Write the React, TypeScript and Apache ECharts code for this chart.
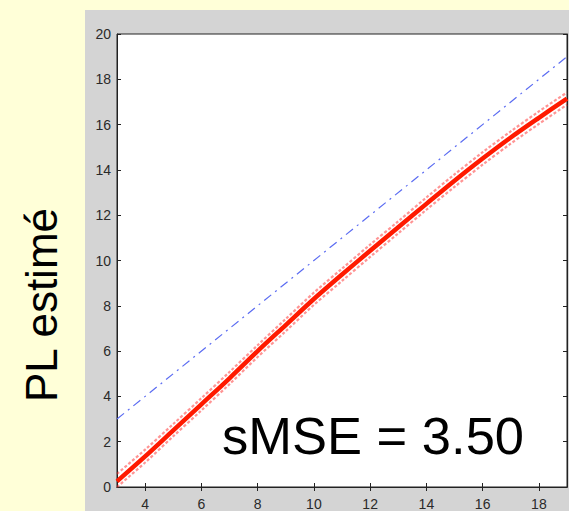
import React, { useEffect, useRef } from "react";
import * as echarts from "echarts";

// True PL values on the horizontal axis
const plTrue = [3, 4, 5, 6, 7, 8, 9, 10, 11, 12, 13, 14, 15, 16, 17, 18, 19];
// Mean estimated PL
const plEstMean = [0.25, 1.35, 2.5, 3.65, 4.8, 6.0, 7.15, 8.3, 9.38, 10.43, 11.47, 12.5, 13.52, 14.5, 15.43, 16.3, 17.15];
// Upper and lower spread of the individual estimates
const plEstHigh = [0.58, 1.65, 2.78, 3.92, 5.08, 6.26, 7.42, 8.58, 9.64, 10.7, 11.73, 12.78, 13.8, 14.78, 15.7, 16.58, 17.42];
const plEstLow = [0.0, 1.08, 2.24, 3.38, 4.54, 5.74, 6.88, 8.04, 9.1, 10.16, 11.2, 12.24, 13.25, 14.23, 15.16, 16.03, 16.88];
// Identity reference line
const identityX = [3, 19];
const identityY = [3, 19];

const xTicks = [4, 6, 8, 10, 12, 14, 16, 18];
const yTicks = [0, 2, 4, 6, 8, 10, 12, 14, 16, 18, 20];

const scoreText = "sMSE = 3.50";
const yTitle = "PL estimé";

const pairs = (xs: number[], ys: number[]) => xs.map((x, i) => [x, ys[i]]);

export default function App() {
  const ref = useRef<HTMLDivElement>(null);

  useEffect(() => {
    if (!ref.current) return;
    const chart = echarts.init(ref.current, undefined, { renderer: "svg" });
    const axisColor = "#222";
    const tickLabel = { color: "#2a2a2a", fontSize: 14, fontFamily: "Liberation Sans, Arial, sans-serif" };
    const tick = { show: true, inside: true, length: 4, lineStyle: { color: axisColor } };

    chart.setOption({
      animation: false,
      backgroundColor: "#ffffd8",
      graphic: [
        {
          type: "rect",
          z: -10,
          shape: { x: 85, y: 10, width: 500, height: 510 },
          style: { fill: "#d4d4d4" },
        },
        {
          type: "text",
          z: 10,
          x: 222,
          y: 462,
          style: {
            text: scoreText,
            fill: "#000",
            font: "52.5px 'Liberation Sans', Arial, sans-serif",
            textVerticalAlign: "bottom",
          },
        },
        {
          type: "text",
          z: 10,
          x: 41,
          y: 305,
          rotation: Math.PI / 2,
          style: {
            text: yTitle,
            fill: "#000",
            font: "44px 'Liberation Sans', Arial, sans-serif",
            textAlign: "center",
            textVerticalAlign: "middle",
          },
        },
      ],
      grid: {
        left: 117,
        top: 34,
        right: 2,
        bottom: 24,
        show: true,
        backgroundColor: "#ffffff",
        borderColor: axisColor,
        borderWidth: 1,
        z: 0,
      },
      xAxis: [
        {
          type: "value",
          min: 3,
          max: 19,
          axisLine: { show: true, lineStyle: { color: axisColor } },
          axisTick: { ...tick, customValues: xTicks },
          splitLine: { show: false },
          axisLabel: { ...tickLabel, margin: 10, customValues: xTicks },
        },
        {
          type: "value",
          position: "top",
          min: 3,
          max: 19,
          axisLine: { show: true, lineStyle: { color: axisColor } },
          axisTick: { ...tick, customValues: xTicks },
          splitLine: { show: false },
          axisLabel: { show: false },
        },
      ],
      yAxis: [
        {
          type: "value",
          min: 0,
          max: 20,
          interval: 2,
          axisLine: { show: true, lineStyle: { color: axisColor } },
          axisTick: { ...tick, customValues: yTicks },
          splitLine: { show: false },
          axisLabel: { ...tickLabel, margin: 6, customValues: yTicks },
        },
        {
          type: "value",
          position: "right",
          min: 0,
          max: 20,
          interval: 2,
          axisLine: { show: true, lineStyle: { color: axisColor } },
          axisTick: { ...tick, customValues: yTicks },
          splitLine: { show: false },
          axisLabel: { show: false },
        },
      ],
      series: [
        {
          type: "line",
          data: pairs(identityX, identityY),
          showSymbol: false,
          lineStyle: { color: "#5b6cf2", width: 1.2, type: [9, 5, 2, 5] },
          z: 3,
        },
        {
          type: "line",
          data: pairs(plTrue, plEstHigh),
          smooth: 0.3,
          showSymbol: false,
          lineStyle: { color: "#ff2a2a", width: 2.2, opacity: 0.5, type: [3, 2] },
          z: 4,
        },
        {
          type: "line",
          data: pairs(plTrue, plEstLow),
          smooth: 0.3,
          showSymbol: false,
          lineStyle: { color: "#ff2a2a", width: 2.2, opacity: 0.5, type: [3, 2] },
          z: 4,
        },
        {
          type: "line",
          data: pairs(plTrue, plEstMean),
          smooth: 0.3,
          showSymbol: false,
          lineStyle: { color: "#ff1a00", width: 4.5 },
          z: 5,
        },
      ],
    });

    return () => chart.dispose();
  }, []);

  return (
    <div
      ref={ref}
      style={{ position: "fixed", left: 0, top: 0, width: 569, height: 511 }}
    />
  );
}
